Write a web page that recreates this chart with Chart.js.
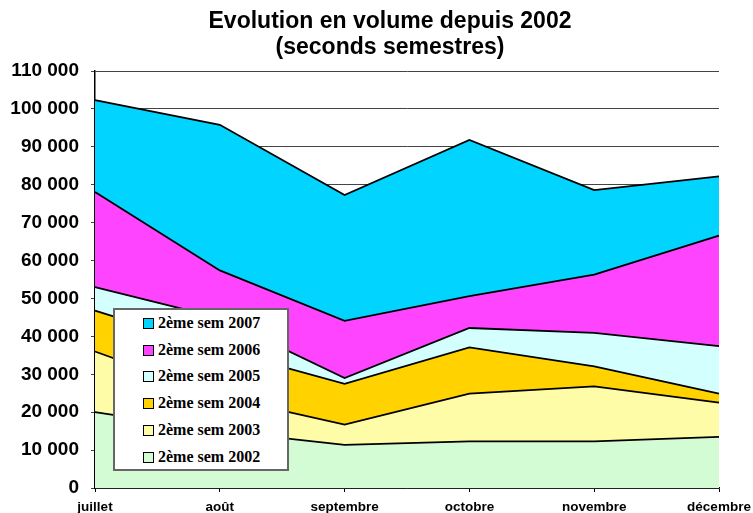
<!DOCTYPE html>
<html lang="fr">
<head>
<meta charset="utf-8">
<title>Evolution en volume depuis 2002</title>
<script src="https://cdn.jsdelivr.net/npm/chart.js@4/dist/chart.umd.min.js"></script>
<style>
  html, body { margin: 0; padding: 0; background: #fff; }
  #wrap { position: relative; width: 753px; height: 513px; overflow: hidden; }
  #legend {
    position: absolute; left: 113px; top: 308px; width: 172px; height: 159px;
    background: #fff; border: 2px solid #666; padding: 0;
    font: bold 16px "Liberation Serif", "Times New Roman", serif; color: #000;
  }
  .lg-row { position: absolute; left: 28px; height: 20px; line-height: 20px; white-space: nowrap; }
  .lg-box { display: inline-block; width: 9px; height: 9px; border: 1px solid #000; margin-right: 4px; vertical-align: -1px; }
</style>
</head>
<body>
<div id="wrap">
  <canvas id="chart" width="753" height="513"></canvas>
  <div id="legend"></div>
</div>
<script>
const titleLines = ["Evolution en volume depuis 2002", "(seconds semestres)"];
const months = ["juillet", "août", "septembre", "octobre", "novembre", "décembre"];
const seriesNames = ["2ème sem 2002", "2ème sem 2003", "2ème sem 2004", "2ème sem 2005", "2ème sem 2006", "2ème sem 2007"];
const seriesColors = ["#d4fcd4", "#fffca8", "#ffd200", "#d4ffff", "#ff44ff", "#00d4ff"];

const sem2002 = [20000, 15000, 11400, 12300, 12300, 13500];
const sem2003 = [16000, 9100, 5300, 12600, 14500, 9000];
const sem2004 = [10800, 12400, 10800, 12200, 5300, 2400];
const sem2005 = [6200, 8300, 1500, 5100, 8800, 12500];
const sem2006 = [25100, 12600, 15100, 8400, 15400, 29200];
const sem2007 = [24200, 38400, 33200, 41200, 22300, 15600];
const seriesValues = [sem2002, sem2003, sem2004, sem2005, sem2006, sem2007];

function fmtThousands(v) {
  return String(v).replace(/\B(?=(\d{3})+(?!\d))/g, " ");
}

const sans = 'Arial, "Liberation Sans", sans-serif';

// the title sits a bit left of the plot centre, so draw it by hand
const titlePlugin = {
  id: "offsetTitle",
  afterDraw(chart) {
    const ctx = chart.ctx;
    ctx.save();
    ctx.font = `bold 23px ${sans}`;
    ctx.fillStyle = "#000";
    ctx.textAlign = "center";
    ctx.textBaseline = "middle";
    titleLines.forEach((t, i) => ctx.fillText(t, 390, 22 + i * 26));
    ctx.restore();
  }
};

const datasets = seriesValues.map((vals, i) => ({
  label: seriesNames[i],
  data: vals,
  backgroundColor: seriesColors[i],
  borderColor: "#000",
  borderWidth: 1.8,
  pointRadius: 0,
  tension: 0,
  fill: i === 0 ? "origin" : "-1"
}));

new Chart(document.getElementById("chart"), {
  type: "line",
  data: { labels: months, datasets: datasets },
  plugins: [titlePlugin],
  options: {
    responsive: false,
    animation: false,
    layout: { padding: { left: 8, right: 34, top: 71, bottom: 0 } },
    plugins: {
      legend: { display: false },
      tooltip: { enabled: false },
      title: { display: false }
    },
    scales: {
      x: {
        offset: false,
        grid: { drawOnChartArea: false, drawTicks: true, tickLength: 4, color: "#000" },
        border: { color: "#000", width: 1.5 },
        ticks: { color: "#000", font: { family: sans, size: 13.5, weight: "bold" }, padding: 7, maxRotation: 0, autoSkip: false },
        afterFit: s => { s.height = 25; s.paddingLeft = 0; s.paddingRight = 0; }
      },
      y: {
        stacked: true,
        min: 0,
        max: 110000,
        grid: { color: "#444", lineWidth: 1, drawTicks: true, tickLength: 4 },
        border: { color: "#000", width: 1.5 },
        ticks: {
          stepSize: 10000,
          color: "#000",
          padding: 12,
          font: { family: sans, size: 19, weight: "bold" },
          callback: v => fmtThousands(v)
        },
        afterFit: s => { s.width = 87; }
      }
    }
  }
});

// legend box, top item is the last series
const legend = document.getElementById("legend");
const order = seriesNames.map((_, i) => i).reverse();
legend.innerHTML = order.map((idx, row) => {
  const top = 3 + row * 26.7;
  return `<div class="lg-row" style="top:${top}px"><span class="lg-box" style="background:${seriesColors[idx]}"></span>${seriesNames[idx]}</div>`;
}).join("");
</script>
</body>
</html>
